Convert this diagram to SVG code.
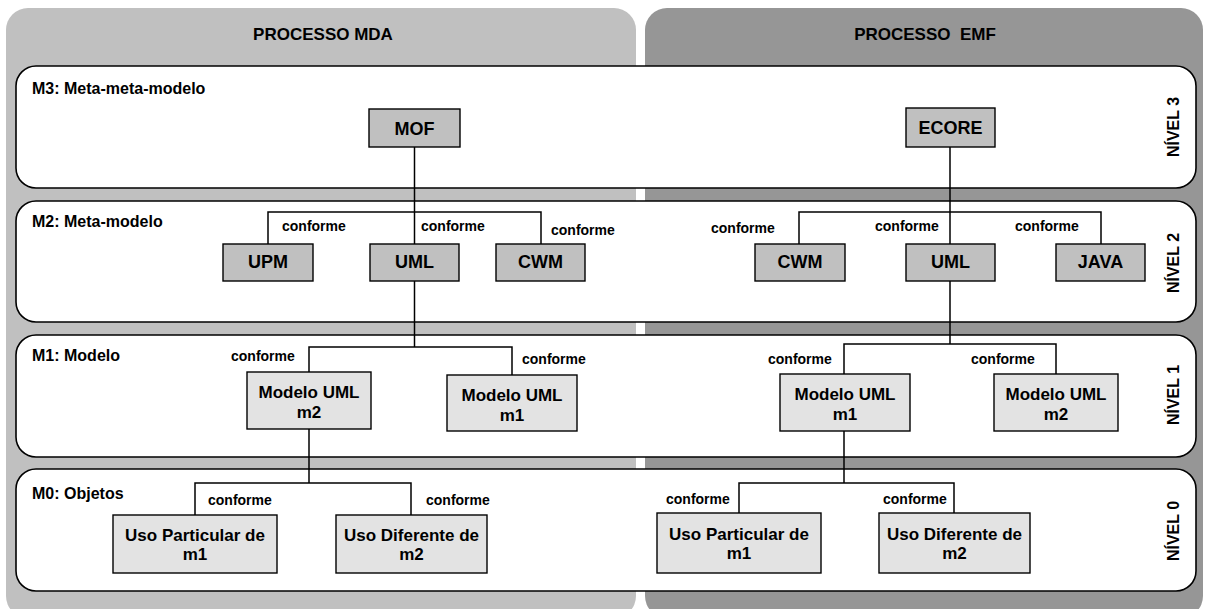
<svg xmlns="http://www.w3.org/2000/svg" width="1205" height="609" viewBox="0 0 1205 609">
<style>
text{font-family:"Liberation Sans",Arial,sans-serif;font-weight:bold;fill:#000}
.hdr{font-size:17px;text-anchor:middle}
.band{fill:#fff;stroke:#000;stroke-width:1.6}
.blab{font-size:16px}
.lvl{font-size:16px;text-anchor:middle}
.n2 rect{fill:#c0c0c0;stroke:#000;stroke-width:1.4}
.n1 rect{fill:#e3e3e3;stroke:#000;stroke-width:1.4}
.n2 text{font-size:18px;text-anchor:middle}
.n1 text{font-size:17px;text-anchor:middle}
.cf{font-size:14px}
.con path{fill:none;stroke:#000;stroke-width:1.5}
</style>
<rect x="6" y="8" width="630" height="610" rx="22" fill="#c0c0c0"/>
<rect x="645" y="8" width="558" height="610" rx="22" fill="#969696"/>
<text class="hdr" x="323" y="40">PROCESSO MDA</text>
<text class="hdr" x="925" y="40" xml:space="preserve">PROCESSO  EMF</text>
<g id="band-m3"><rect class="band" x="16" y="66" width="1180" height="122" rx="20"/><text class="blab" x="32" y="94">M3: Meta-meta-modelo</text><text class="lvl" transform="translate(1179,127) rotate(-90)">NÍVEL 3</text></g>
<g id="band-m2"><rect class="band" x="16" y="201" width="1180" height="121" rx="20"/><text class="blab" x="32" y="227">M2: Meta-modelo</text><text class="lvl" transform="translate(1179,263) rotate(-90)">NÍVEL 2</text></g>
<g id="band-m1"><rect class="band" x="16" y="335" width="1180" height="122" rx="20"/><text class="blab" x="32" y="361">M1: Modelo</text><text class="lvl" transform="translate(1179,395) rotate(-90)">NÍVEL 1</text></g>
<g id="band-m0"><rect class="band" x="16" y="469" width="1180" height="122" rx="20"/><text class="blab" x="32" y="499">M0: Objetos</text><text class="lvl" transform="translate(1179,531) rotate(-90)">NÍVEL 0</text></g>
<g id="connectors" class="con">
<path d="M414.5 147V244"/>
<path d="M268 244V212H541V244"/>
<path d="M414.5 281V347"/>
<path d="M309 372V347H512V375"/>
<path d="M309 429V483"/>
<path d="M195 515V483H411V515"/>
<path d="M950 147V244"/>
<path d="M799 244V212H1101V244"/>
<path d="M950 281V344"/>
<path d="M844 374V344H1056V374"/>
<path d="M844 431V483"/>
<path d="M739 513V483H954V513"/>
</g>
<g id="labels">
<text class="cf" x="282" y="231">conforme</text>
<text class="cf" x="421" y="231">conforme</text>
<text class="cf" x="551" y="235">conforme</text>
<text class="cf" x="711" y="233">conforme</text>
<text class="cf" x="875" y="231">conforme</text>
<text class="cf" x="1015" y="231">conforme</text>
<text class="cf" x="231" y="361">conforme</text>
<text class="cf" x="522" y="364">conforme</text>
<text class="cf" x="768" y="364">conforme</text>
<text class="cf" x="971" y="364">conforme</text>
<text class="cf" x="208" y="505">conforme</text>
<text class="cf" x="426" y="505">conforme</text>
<text class="cf" x="666" y="504">conforme</text>
<text class="cf" x="883" y="504">conforme</text>
</g>
<g id="mof" class="n2"><rect x="369" y="109" width="91" height="38"/><text x="414.5" y="134.5">MOF</text></g>
<g id="ecore" class="n2"><rect x="906" y="108" width="89" height="39"/><text x="950.5" y="134">ECORE</text></g>
<g id="upm" class="n2"><rect x="223" y="244" width="90" height="37"/><text x="268" y="268">UPM</text></g>
<g id="uml-mda" class="n2"><rect x="370" y="244" width="89" height="37"/><text x="414.5" y="268">UML</text></g>
<g id="cwm-mda" class="n2"><rect x="496" y="244" width="89" height="37"/><text x="540.5" y="268">CWM</text></g>
<g id="cwm-emf" class="n2"><rect x="755" y="244" width="90" height="37"/><text x="800" y="268">CWM</text></g>
<g id="uml-emf" class="n2"><rect x="906" y="244" width="89" height="37"/><text x="950.5" y="268">UML</text></g>
<g id="java" class="n2"><rect x="1056" y="244" width="89" height="37"/><text x="1100.5" y="268">JAVA</text></g>
<g id="m1-mda-m2" class="n1"><rect x="247" y="372" width="124" height="57"/><text x="309" y="398">Modelo UML</text><text x="309" y="418">m2</text></g>
<g id="m1-mda-m1" class="n1"><rect x="447" y="375" width="130" height="56"/><text x="512" y="401">Modelo UML</text><text x="512" y="421">m1</text></g>
<g id="m1-emf-m1" class="n1"><rect x="780" y="374" width="130" height="57"/><text x="845" y="400">Modelo UML</text><text x="845" y="420">m1</text></g>
<g id="m1-emf-m2" class="n1"><rect x="994" y="374" width="124" height="57"/><text x="1056" y="400">Modelo UML</text><text x="1056" y="420">m2</text></g>
<g id="m0-mda-1" class="n1"><rect x="113" y="515" width="164" height="58"/><text x="195" y="541">Uso Particular de</text><text x="195" y="560">m1</text></g>
<g id="m0-mda-2" class="n1"><rect x="336" y="515" width="151" height="58"/><text x="411.5" y="541">Uso Diferente de</text><text x="411.5" y="560">m2</text></g>
<g id="m0-emf-1" class="n1"><rect x="657" y="513" width="164" height="60"/><text x="739" y="540">Uso Particular de</text><text x="739" y="559">m1</text></g>
<g id="m0-emf-2" class="n1"><rect x="879" y="513" width="151" height="60"/><text x="954.5" y="540">Uso Diferente de</text><text x="954.5" y="559">m2</text></g>
</svg>
